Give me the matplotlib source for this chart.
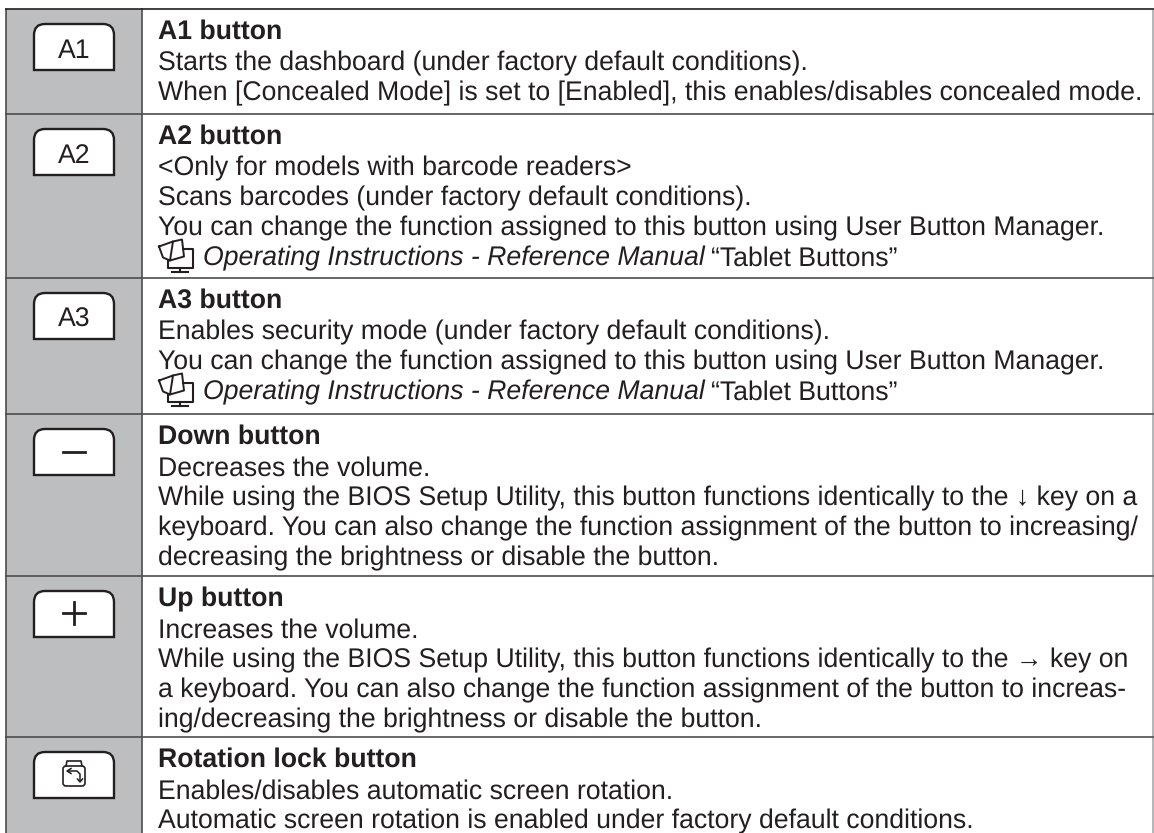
import matplotlib
matplotlib.use("Agg")
import matplotlib.pyplot as plt
from matplotlib.patches import Rectangle, PathPatch, FancyBboxPatch
from matplotlib.path import Path

W, H = 1154, 833

# key labels and description rows, top to bottom
keys = ["A1", "A2", "A3", "-", "+", "rot"]
titles = ["A1 button", "A2 button", "A3 button", "Down button", "Up button", "Rotation lock button"]
bodies = [
    ["Starts the dashboard (under factory default conditions).",
     "When [Concealed Mode] is set to [Enabled], this enables/disables concealed mode."],
    ["<Only for models with barcode readers>",
     "Scans barcodes (under factory default conditions).",
     "You can change the function assigned to this button using User Button Manager.",
     "@Operating Instructions - Reference Manual|\u201cTablet Buttons\u201d"],
    ["Enables security mode (under factory default conditions).",
     "You can change the function assigned to this button using User Button Manager.",
     "@Operating Instructions - Reference Manual|\u201cTablet Buttons\u201d"],
    ["Decreases the volume.",
     "While using the BIOS Setup Utility, this button functions identically to the \u2193 key on a",
     "keyboard. You can also change the function assignment of the button to increasing/",
     "decreasing the brightness or disable the button."],
    ["Increases the volume.",
     "While using the BIOS Setup Utility, this button functions identically to the \u2192 key on",
     "a keyboard. You can also change the function assignment of the button to increas-",
     "ing/decreasing the brightness or disable the button."],
    ["Enables/disables automatic screen rotation.",
     "Automatic screen rotation is enabled under factory default conditions."],
]
row_lines = [9, 114, 278, 414, 576, 737]

BLACK = "#231f20"
GREY = "#bcbec0"
LINE = "#4d4d4f"
FS = 19.15
STEP = 30.0
COL0, COL1, COL2 = 6, 142, 1153

plt.rcParams["text.hinting"] = "no_hinting"
plt.rcParams["text.hinting_factor"] = 8
plt.rcParams["font.family"] = ["Liberation Sans", "DejaVu Sans"]

fig = plt.figure(figsize=(W / 100, H / 100), dpi=100)
ax = fig.add_axes([0, 0, 1, 1])
ax.set_xlim(0, W)
ax.set_ylim(H, 0)
ax.axis("off")


def draw_key(y):
    # rounded top corners, square bottom
    x0, x1, top, bot = 34, 114, y, y + 46
    r = 11
    verts = [(x0, bot), (x0, top + r), (x0, top), (x0 + r, top), (x1 - r, top), (x1, top), (x1, top + r),
             (x1, bot), (x0, bot)]
    codes = [Path.MOVETO, Path.LINETO, Path.CURVE3, Path.CURVE3, Path.LINETO, Path.CURVE3, Path.CURVE3,
             Path.LINETO, Path.CLOSEPOLY]
    ax.add_patch(PathPatch(Path(verts, codes), fc="white", ec=BLACK, lw=1.7, zorder=3))


def draw_rot_icon(cy):
    ax.add_patch(FancyBboxPatch((63, cy - 9), 22, 20, boxstyle="round,pad=0,rounding_size=3",
                                fc="none", ec=BLACK, lw=1.2, zorder=4))
    ax.plot([66, 67, 81, 82], [cy - 9, cy - 14, cy - 14, cy - 9], color=BLACK, lw=1.2, zorder=4)
    ax.plot([68, 77, 80, 80], [cy - 4, cy - 4, cy - 1, cy + 6], color=BLACK, lw=1.1, zorder=4)
    ax.plot([77.5, 80, 82.5], [cy + 4, cy + 7, cy + 4], color=BLACK, lw=1.1, zorder=4)
    ax.plot([71, 67, 71], [cy - 6.5, cy - 4, cy - 1.5], color=BLACK, lw=1.1, zorder=4)


def draw_book(x, base):
    # small manual + monitor icon in front of the references
    ax.plot([x - 1, x + 13, x + 10, x + 3, x - 1], [base - 19, base - 24, base - 5, base - 8, base - 19], color=BLACK, lw=1.4)
    ax.plot([x + 13, x + 22, x + 24, x + 10], [base - 24, base - 26, base - 9, base - 5], color=BLACK, lw=1.4)
    ax.plot([x + 23, x + 33, x + 33, x + 8, x + 8], [base - 17, base - 17, base + 2, base + 2, base - 5], color=BLACK, lw=1.5)
    ax.plot([x + 20, x + 20], [base + 2, base + 6], color=BLACK, lw=1.5)
    ax.plot([x + 12, x + 28], [base + 6.5, base + 6.5], color=BLACK, lw=1.5)


ax.add_patch(Rectangle((COL0, row_lines[0]), COL1 - COL0, H - row_lines[0], fc=GREY, ec="none", zorder=0))
ax.plot([COL0, COL0], [row_lines[0], H], color=LINE, lw=1.2, zorder=2)
ax.plot([COL1, COL1], [row_lines[0], H], color=LINE, lw=1.2, zorder=2)
ax.plot([COL2, COL2], [row_lines[0], H], color="#a7a9ac", lw=1.2, zorder=2)

for i, top in enumerate(row_lines):
    ax.plot([COL0, COL2], [top, top], color=BLACK if i == 0 else LINE, lw=1.2, zorder=2)
    key = keys[i]
    draw_key(top + 15)
    if key == "rot":
        draw_rot_icon(top + 38)
    elif key == "-":
        ax.plot([63, 85], [top + 38, top + 38], color=BLACK, lw=2.0, zorder=4)
    elif key == "+":
        ax.plot([63, 85], [top + 37, top + 37], color=BLACK, lw=2.0, zorder=4)
        ax.plot([74, 74], [top + 26, top + 48], color=BLACK, lw=2.0, zorder=4)
    else:
        ax.text(74, top + 48.5, key, fontsize=FS, color=BLACK, ha="center", va="baseline", zorder=4)

    y = top + 30
    ax.text(157.5, y, titles[i], fontsize=FS, fontweight="bold", color=BLACK, va="baseline")
    y += 1.5
    for line in bodies[i]:
        y += STEP
        if line.startswith("@"):
            draw_book(160, y)
            it, rest = line[1:].split("|")
            t = ax.text(203, y, it, fontsize=FS, style="italic", color=BLACK, va="baseline")
            bb = t.get_window_extent(fig.canvas.get_renderer())
            ax.text(bb.x1 + 6, y, rest, fontsize=FS, color=BLACK, va="baseline")
        else:
            ax.text(157.5, y, line, fontsize=FS, color=BLACK, va="baseline")

fig.savefig("out.png", dpi=100)
